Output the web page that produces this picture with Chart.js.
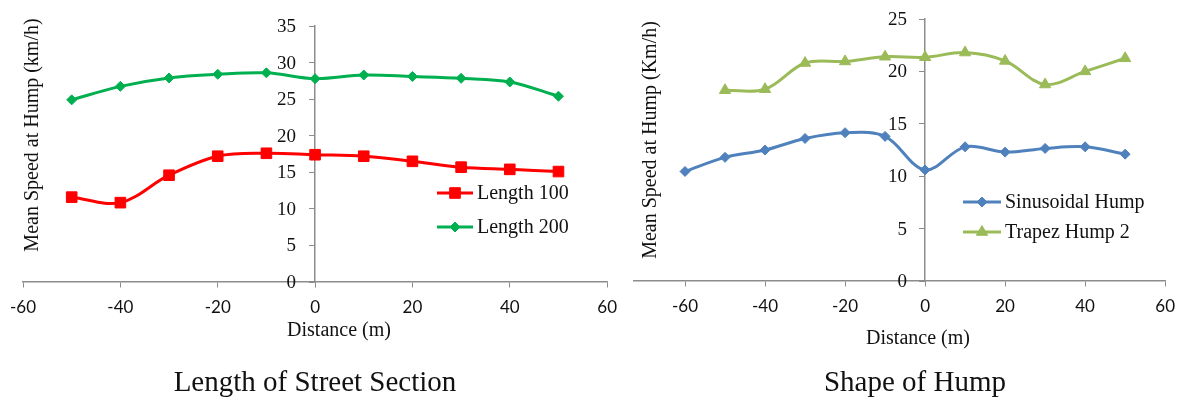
<!DOCTYPE html>
<html>
<head>
<meta charset="utf-8">
<script src="https://cdn.jsdelivr.net/npm/chart.js@4.4.1/dist/chart.umd.min.js"></script>
<style>
  html, body { margin: 0; padding: 0; background: #fff; overflow: hidden; }
  #wrap { position: relative; width: 1181px; height: 398px; overflow: hidden; }
  .box { position: absolute; top: 0; height: 398px; }
  #leftBox { left: 0; width: 627px; }
  #rightBox { left: 616px; width: 569px; }
</style>
</head>
<body>
<div id="wrap">
  <div class="box" id="leftBox"><canvas id="lengthChart"></canvas></div>
  <div class="box" id="rightBox"><canvas id="shapeChart"></canvas></div>
</div>
<script>
// distance before / after the hump (m)
const distLength = [-50, -40, -30, -20, -10, 0, 10, 20, 30, 40, 50];
const length100 = [11.6, 10.85, 14.6, 17.2, 17.6, 17.4, 17.2, 16.5, 15.7, 15.4, 15.1];
const length200 = [24.9, 26.75, 27.9, 28.4, 28.6, 27.8, 28.3, 28.1, 27.85, 27.35, 25.4];

const distSinus = [-60, -50, -40, -30, -20, -10, 0, 10, 20, 30, 40, 50];
const sinusoidal = [10.45, 11.8, 12.5, 13.6, 14.15, 13.8, 10.6, 12.8, 12.3, 12.65, 12.8, 12.1];
const distTrapez = [-50, -40, -30, -20, -10, 0, 10, 20, 30, 40, 50];
const trapez2 = [18.2, 18.3, 20.8, 20.95, 21.4, 21.35, 21.8, 21.0, 18.75, 20.0, 21.25];

const xTicks = [-60, -40, -20, 0, 20, 40, 60];
const yTicksLength = [0, 5, 10, 15, 20, 25, 30, 35];
const yTicksShape = [0, 5, 10, 15, 20, 25];

const axisGray = '#8c8c8c';
const serif = "'Liberation Serif', 'Times New Roman', serif";
const sans = "Lato, 'Liberation Sans', sans-serif";

function pts(xs, ys) {
    return xs.map((x, i) => ({ x: x, y: ys[i] }));
}

// draws free text (axis titles, caption)
const textLayer = {
    id: 'textLayer',
    afterDraw(chart, args, opts) {
        const ctx = chart.ctx;
        (opts.items || []).forEach(t => {
            ctx.save();
            ctx.font = t.font;
            ctx.fillStyle = '#111';
            ctx.textAlign = 'center';
            ctx.textBaseline = 'middle';
            ctx.translate(t.x, t.y);
            if (t.rotate) ctx.rotate(t.rotate);
            ctx.fillText(t.text, 0, 0);
            ctx.restore();
        });
    }
};

// y tick labels left of the centred y axis (chart.js puts them on the line)
const yLabels = {
    id: 'yLabels',
    afterDraw(chart, args, opts) {
        const ctx = chart.ctx;
        const y = chart.scales.y;
        const x0 = chart.scales.x.getPixelForValue(0);
        ctx.save();
        ctx.font = opts.font;
        ctx.fillStyle = '#111';
        ctx.textAlign = 'right';
        ctx.textBaseline = 'middle';
        y.ticks.forEach(t => {
            ctx.fillText(String(t.value), x0 - opts.gap, y.getPixelForValue(t.value) + 1);
        });
        ctx.restore();
    }
};

// excel style legend: line + marker + label
const lineLegend = {
    id: 'lineLegend',
    afterDraw(chart, args, opts) {
        const ctx = chart.ctx;
        chart.data.datasets.forEach((ds, i) => {
            const y = opts.y + i * opts.gap;
            ctx.save();
            ctx.strokeStyle = ds.borderColor;
            ctx.lineWidth = ds.borderWidth;
            ctx.beginPath();
            ctx.moveTo(opts.x, y);
            ctx.lineTo(opts.x + opts.len, y);
            ctx.stroke();
            ctx.fillStyle = ds.pointBackgroundColor;
            ctx.strokeStyle = ds.pointBorderColor;
            ctx.lineWidth = 1;
            Chart.helpers.drawPoint(ctx, {
                pointStyle: ds.pointStyle, radius: ds.pointRadius, borderWidth: 1, rotation: 0
            }, opts.x + opts.len / 2, y);
            ctx.fillStyle = '#111';
            ctx.font = opts.font;
            ctx.textAlign = 'left';
            ctx.textBaseline = 'middle';
            ctx.fillText(ds.label, opts.x + opts.len + 4, y + 1);
            ctx.restore();
        });
    }
};

function axisX(min) {
    return {
        type: 'linear', min: min, max: 60,
        position: { y: 0 },
        afterBuildTicks: s => { s.ticks = xTicks.map(v => ({ value: v })); },
        grid: { drawOnChartArea: false, tickLength: 5, color: axisGray },
        border: { color: axisGray, width: 1.5 },
        ticks: { font: { family: sans, size: 17 }, color: '#111', padding: 10, maxRotation: 0 }
    };
}

function axisY(max, list) {
    return {
        type: 'linear', min: 0, max: max,
        position: { x: 0 },
        afterBuildTicks: s => { s.ticks = list.map(v => ({ value: v })); },
        grid: { drawOnChartArea: false, tickLength: 5, color: axisGray },
        border: { color: axisGray, width: 1.5 },
        ticks: { display: false }
    };
}

function series(label, data, color, style, radius) {
    return {
        label: label, data: data,
        borderColor: color, borderWidth: 3,
        pointStyle: style, pointRadius: radius, pointHoverRadius: radius,
        pointBackgroundColor: color, pointBorderColor: color, pointBorderWidth: 1,
        tension: 0.35, fill: false
    };
}

new Chart(document.getElementById('lengthChart'), {
    type: 'line',
    data: {
        datasets: [
            series('Length 100', pts(distLength, length100), '#ff0000', 'rect', 7.5),
            series('Length 200', pts(distLength, length200), '#00b050', 'rectRot', 5)
        ]
    },
    options: {
        responsive: true,
        maintainAspectRatio: false,
        animation: false,
        layout: { padding: { left: 23, right: 12, top: 26, bottom: 116 } },
        scales: { x: axisX(-60), y: axisY(35, yTicksLength) },
        plugins: {
            legend: { display: false },
            tooltip: { enabled: false },
            yLabels: { gap: 19, font: '19px ' + serif },
            lineLegend: { x: 437, y: 193, gap: 34, len: 36, font: '20px ' + serif },
            textLayer: {
                items: [
                    { text: 'Mean Speed at Hump (km/h)', x: 33, y: 135, rotate: -Math.PI / 2, font: '20px ' + serif },
                    { text: 'Distance (m)', x: 339, y: 331, font: '20px ' + serif },
                    { text: 'Length of Street Section', x: 315, y: 383, font: '29px ' + serif }
                ]
            }
        }
    },
    plugins: [yLabels, lineLegend, textLayer]
});

new Chart(document.getElementById('shapeChart'), {
    type: 'line',
    data: {
        datasets: [
            series('Sinusoidal Hump', pts(distSinus, sinusoidal), '#4f81bd', 'rectRot', 5),
            series('Trapez Hump 2', pts(distTrapez, trapez2), '#9bbb59', 'triangle', 6.5)
        ]
    },
    options: {
        responsive: true,
        maintainAspectRatio: false,
        animation: false,
        layout: { padding: { left: 18, right: 12, top: 19, bottom: 117 } },
        scales: { x: axisX(-72.75), y: axisY(25, yTicksShape) },
        plugins: {
            legend: { display: false },
            tooltip: { enabled: false },
            yLabels: { gap: 18, font: '19px ' + serif },
            lineLegend: { x: 347, y: 202, gap: 30, len: 38, font: '20px ' + serif },
            textLayer: {
                items: [
                    { text: 'Mean Speed at Hump (Km/h)', x: 35, y: 140, rotate: -Math.PI / 2, font: '20px ' + serif },
                    { text: 'Distance (m)', x: 302, y: 339, font: '20px ' + serif },
                    { text: 'Shape of Hump', x: 299, y: 383, font: '29px ' + serif }
                ]
            }
        }
    },
    plugins: [yLabels, lineLegend, textLayer]
});
</script>
</body>
</html>
